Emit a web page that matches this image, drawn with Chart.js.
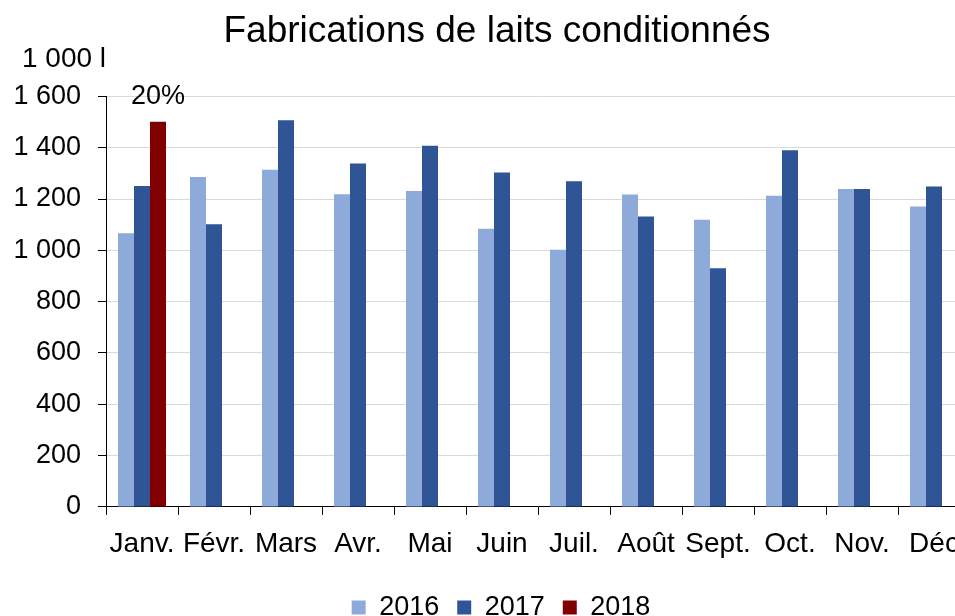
<!DOCTYPE html>
<html lang="fr">
<head>
<meta charset="utf-8">
<title>Fabrications de laits conditionnés</title>
<script src="https://cdn.jsdelivr.net/npm/chart.js@4/dist/chart.umd.min.js"></script>
<style>
    html, body { margin: 0; padding: 0; background: #fff; overflow: hidden; }
    #wrap { width: 1000px; height: 616px; }
</style>
</head>
<body>
<div id="wrap"><canvas id="chart" width="1000" height="616"></canvas></div>
<script>
// ── Data ──────────────────────────────────────────────────────────────────────
const MONTHS    = ['Janv.', 'Févr.', 'Mars', 'Avr.', 'Mai', 'Juin', 'Juil.', 'Août', 'Sept.', 'Oct.', 'Nov.', 'Déc'];
const VALS_2016 = [1067, 1286, 1314, 1219, 1231, 1084, 1002, 1218, 1119, 1213, 1239, 1171];
const VALS_2017 = [1251, 1102, 1507, 1338, 1408, 1303, 1269, 1132, 930, 1390, 1239, 1249];
const VALS_2018 = [1501, null, null, null, null, null, null, null, null, null, null, null];
const LABELS_2018 = ['20%'];   // variation annotated above the 2018 bar
const UNIT = '1 000 l';

const C_2016 = '#8eaadb';
const C_2017 = '#2f5597';
const C_2018 = '#800000';

const FONT = "'Liberation Sans', Arial, sans-serif";
Chart.defaults.font.family = FONT;
Chart.defaults.color = '#000';

function fmt(v) {
    return String(v).replace(/\B(?=(\d{3})+(?!\d))/g, ' ');
}

// ── Small plugin: unit label, data label on 2018, centre title/legend ─────────
const extras = {
    id: 'extras',
    afterLayout(chart) {
        // the picture is cropped on the right: re-centre title and legend on the visible part
        chart.titleBlock.left = 24;
        chart.legend.left = 32;
    },
    afterDatasetsDraw(chart) {
        const ctx = chart.ctx;
        ctx.save();
        ctx.fillStyle = '#000';
        ctx.font = '27px ' + FONT;
        ctx.textAlign = 'center';
        ctx.textBaseline = 'alphabetic';
        const meta = chart.getDatasetMeta(2);
        meta.data.forEach((bar, i) => {
            if (VALS_2018[i] == null || !LABELS_2018[i]) return;
            ctx.fillText(LABELS_2018[i], bar.x, bar.y - 18);
        });
        // unit above the y axis
        ctx.font = '28px ' + FONT;
        ctx.textAlign = 'left';
        ctx.fillText(UNIT, 22, 67);
        ctx.restore();
    }
};

new Chart(document.getElementById('chart'), {
    type: 'bar',
    data: {
        labels: MONTHS,
        datasets: [
            { label: '2016', data: VALS_2016, backgroundColor: C_2016 },
            { label: '2017', data: VALS_2017, backgroundColor: C_2017 },
            { label: '2018', data: VALS_2018, backgroundColor: C_2018 },
        ]
    },
    options: {
        responsive: false,
        animation: false,
        categoryPercentage: 0.667,
        barPercentage: 1,
        layout: { padding: { top: 10, left: 0, right: 30, bottom: -15 } },
        plugins: {
            title: {
                display: true,
                text: 'Fabrications de laits conditionnés',
                color: '#000',
                font: { size: 37, weight: 'normal' },
                padding: { top: 0, bottom: 42 }
            },
            legend: {
                position: 'bottom',
                labels: {
                    boxWidth: 14, boxHeight: 14, padding: 18,
                    color: '#000',
                    font: { size: 27 }
                }
            },
            tooltip: { enabled: false }
        },
        scales: {
            x: {
                grid: { drawOnChartArea: false, drawTicks: true, tickLength: 8, tickColor: '#000', offset: true },
                border: { color: '#000', width: 1 },
                ticks: { font: { size: 28 }, color: '#000', padding: 13, maxRotation: 0, autoSkip: false },
                afterFit(scale) { scale.height += 1.5; }
            },
            y: {
                min: 0, max: 1600,
                grid: { color: '#d9d9d9', tickColor: '#000', tickLength: 8 },
                border: { color: '#000', width: 1 },
                ticks: { stepSize: 200, font: { size: 27 }, color: '#000', padding: 17, callback: v => fmt(v) },
                afterFit(scale) { scale.width = 106; }
            }
        }
    },
    plugins: [extras]
});
</script>
</body>
</html>
